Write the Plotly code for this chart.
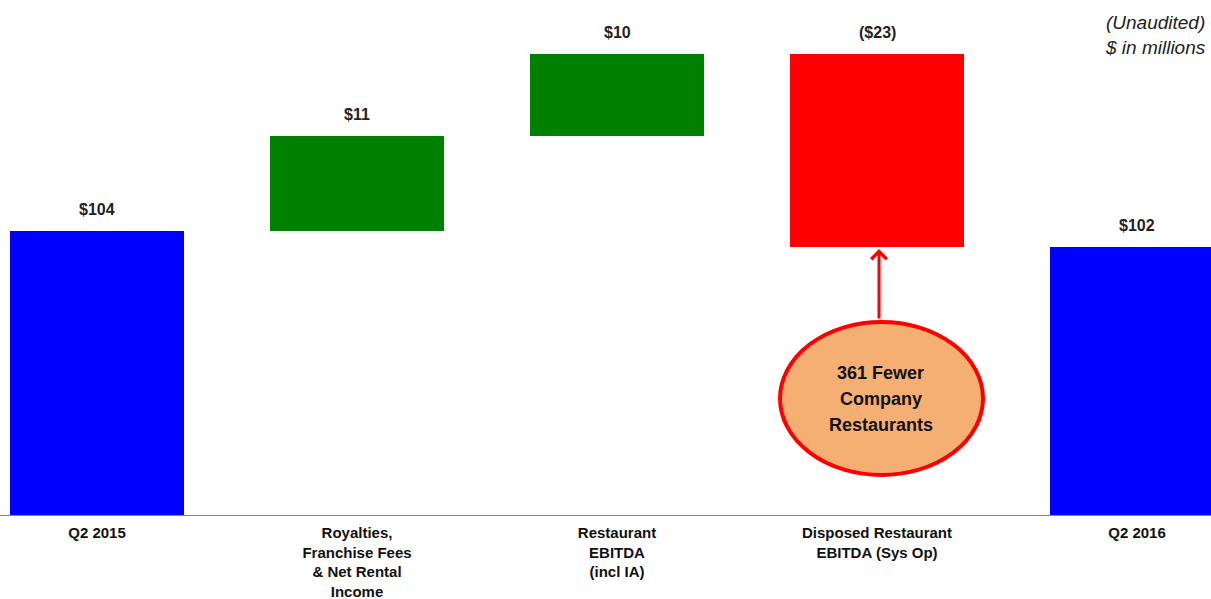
import plotly.graph_objects as go

categories = ["Q2 2015", "Royalties,<br>Franchise Fees<br>& Net Rental<br>Income",
              "Restaurant<br>EBITDA<br>(incl IA)", "Disposed Restaurant<br>EBITDA (Sys Op)", "Q2 2016"]
changes = [104, 11.3, 9.8, -23.0]
end_total = 102.1
value_labels = ["$104", "$11", "$10", "($23)", "$102"]
bar_colors = ["#0000FF", "#008000", "#008000", "#FF0000", "#0000FF"]
callout_lines = ["361 Fewer", "Company", "Restaurants"]

# compute bases / heights from the data
bases, heights = [], []
running = 0
for i, c in enumerate(changes):
    if i == 0:
        bases.append(0); heights.append(c); running = c
    else:
        new = running + c
        bases.append(min(running, new)); heights.append(abs(c)); running = new
bases.append(0); heights.append(end_total)
tops = [b + h for b, h in zip(bases, heights)]

FONT = "Liberation Sans Narrow, Arial Narrow, Liberation Sans, Arial, sans-serif"
xs = list(range(len(categories)))
bold_ticks = ["<br>".join("<b>%s</b>" % part for part in c.split("<br>")) for c in categories]

fig = go.Figure()
fig.add_trace(go.Bar(x=xs, y=heights, base=bases, marker=dict(color=bar_colors, line=dict(width=0)),
                     width=0.67, hoverinfo="skip"))

for x, t, lab in zip(xs, tops, value_labels):
    fig.add_annotation(x=x, y=t, text="<b>%s</b>" % lab, showarrow=False, yanchor="bottom",
                       xanchor="center", yshift=11, font=dict(family=FONT, size=16, color="#222222"))

W, H_PLOT = 1211, 515
def px(x):
    return x / W
def py(y):
    return 1 - y / H_PLOT

# ellipse callout
fig.add_shape(type="circle", xref="paper", yref="paper",
              x0=px(780), x1=px(983), y0=py(475), y1=py(322),
              fillcolor="#F5AF73", line=dict(color="#FF0000", width=4), layer="above")
for k, line in enumerate(callout_lines):
    fig.add_annotation(xref="paper", yref="paper", x=px(881), y=py(373 + 26 * k),
                       xanchor="center", yanchor="middle",
                       text="<b>%s</b>" % line, showarrow=False,
                       font=dict(family=FONT, size=18, color="#111111"))
fig.add_annotation(xref="paper", yref="paper", x=px(879), y=py(249), text="", showarrow=True,
                   ax=0, ay=71, arrowhead=4, arrowsize=1, arrowwidth=3, arrowcolor="#FF0000")

fig.add_annotation(xref="paper", yref="paper", x=px(1208), y=py(10), xanchor="right", yanchor="top",
                   text="<i>(Unaudited)<br>$ in millions</i>", showarrow=False, align="right",
                   font=dict(family=FONT, size=19, color="#222222"))

fig.update_layout(
    width=1211, height=599, margin=dict(l=0, r=0, t=0, b=84),
    plot_bgcolor="white", paper_bgcolor="white", showlegend=False, bargap=0,
    xaxis=dict(range=[-97/260, (1211-97)/260], tickmode="array", tickvals=xs, ticktext=bold_ticks,
               showline=True, linecolor="#888888", linewidth=1, showgrid=False, zeroline=False,
               automargin=False,
               ticks="", ticklabelstandoff=4, tickfont=dict(family=FONT, size=15, color="#111111")),
    yaxis=dict(range=[70, 131.6], visible=False, showgrid=False, zeroline=False, automargin=False),
)
fig.write_html("out.html")
